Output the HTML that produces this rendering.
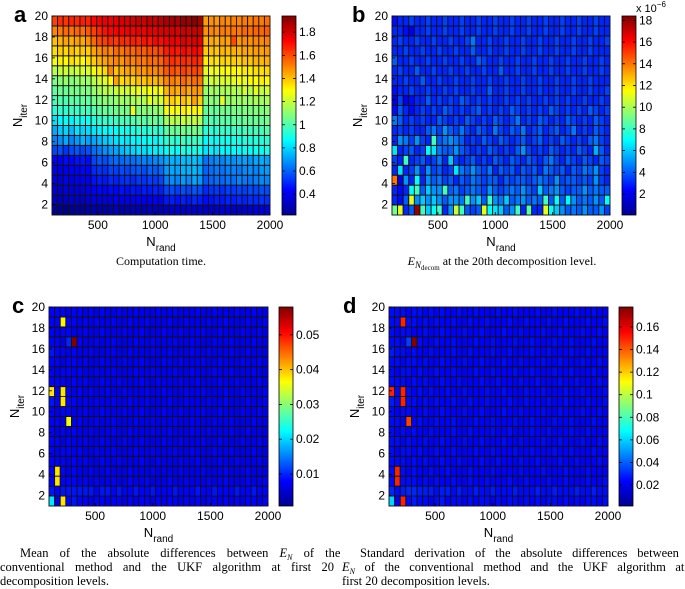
<!DOCTYPE html>
<html><head><meta charset="utf-8"><style>
html,body{margin:0;padding:0;background:#fff;}
svg{display:block;font-family:"Liberation Sans",sans-serif;}
.ser{font-family:"Liberation Serif",serif;}
</style></head><body>
<svg id="fig" width="685" height="589" viewBox="0 0 685 589" xmlns="http://www.w3.org/2000/svg">
<defs>
<linearGradient id="jet" x1="0" y1="1" x2="0" y2="0">
<stop offset="0" stop-color="#00008f"/><stop offset="0.125" stop-color="#0000ff"/><stop offset="0.375" stop-color="#00ffff"/><stop offset="0.625" stop-color="#ffff00"/><stop offset="0.875" stop-color="#ff0000"/><stop offset="1" stop-color="#800000"/>
</linearGradient>
</defs>
<g id="layer"></g>
<text x="14" y="22" font-size="22" font-weight="bold">a</text>
<text x="352" y="22" font-size="22" font-weight="bold">b</text>
<text x="12" y="313" font-size="22" font-weight="bold">c</text>
<text x="343" y="313" font-size="22" font-weight="bold">d</text>
<text x="636" y="12" font-size="11">x 10<tspan dy="-5" font-size="8">−6</tspan></text>
<text class="ser" x="161" y="265" font-size="12" text-anchor="middle">Computation time.</text>
<text class="ser" x="502" y="265" font-size="12" text-anchor="middle"><tspan font-style="italic">E</tspan><tspan font-style="italic" font-size="9" dy="3">N</tspan><tspan font-size="7" dy="2">decom</tspan><tspan dy="-5"> at the 20th decomposition level.</tspan></text>
<g class="ser" font-size="12.5">
<text x="20" y="557" word-spacing="8">Mean of the absolute differences between <tspan font-style="italic">E</tspan><tspan font-style="italic" font-size="8" dy="3">N</tspan><tspan dy="-3"> of the</tspan></text>
<text x="0" y="571" word-spacing="7.3">conventional method and the UKF algorithm at first 20</text>
<text x="0" y="585">decomposition levels.</text>
</g>
<g class="ser" font-size="12.5">
<text x="360" y="557" word-spacing="6.8">Standard derivation of the absolute differences between</text>
<text x="342" y="571" word-spacing="6.4"><tspan font-style="italic">E</tspan><tspan font-style="italic" font-size="8" dy="3">N</tspan><tspan dy="-3"> of the conventional method and the UKF algorithm at</tspan></text>
<text x="342" y="585">first 20 decomposition levels.</text>
</g>
</svg>
<script>
const nRand=[];for(let k=100;k<=2000;k+=50)nRand.push(k);
const xTicks=[500,1000,1500,2000];
const yTicks=[2,4,6,8,10,12,14,16,18,20];
const cbTicksA=[0.4,0.6,0.8,1,1.2,1.4,1.6,1.8];
const cbTicksB=[2,4,6,8,10,12,14,16,18];
const cbTicksC=[0.01,0.02,0.03,0.04,0.05];
const cbTicksD=[0.02,0.04,0.06,0.08,0.1,0.12,0.14,0.16];
// panel a: computation time, rows N_iter=1..20
const timeA=[
[.26,.24,.23,.25,.27,.26,.28,.29,.30,.28,.30,.31,.29,.30,.32,.31,.30,.32,.33,.31,.34,.33,.35,.34,.36,.35,.34,.33,.35,.34,.36,.35,.33,.34,.36,.35,.37,.36,.38],
[.32,.31,.33,.35,.34,.33,.36,.38,.37,.39,.38,.40,.39,.41,.40,.42,.41,.40,.43,.42,.47,.48,.46,.49,.47,.50,.48,.45,.46,.48,.47,.49,.48,.50,.49,.51,.50,.52,.51],
[.36,.35,.37,.36,.38,.37,.39,.42,.44,.43,.45,.44,.46,.45,.47,.46,.48,.47,.49,.48,.55,.56,.54,.57,.55,.58,.56,.50,.52,.53,.51,.54,.53,.55,.54,.56,.55,.57,.56],
[.38,.37,.40,.39,.41,.42,.40,.46,.48,.47,.50,.49,.51,.52,.50,.53,.52,.54,.53,.55,.65,.68,.66,.70,.67,.72,.69,.58,.60,.62,.61,.63,.62,.66,.64,.63,.65,.67,.66],
[.40,.39,.41,.43,.42,.44,.43,.50,.52,.51,.55,.54,.56,.55,.57,.58,.56,.60,.59,.61,.70,.72,.71,.74,.73,.75,.72,.60,.62,.64,.63,.65,.66,.64,.67,.68,.66,.69,.70],
[.43,.42,.45,.44,.46,.47,.45,.55,.58,.56,.60,.62,.61,.63,.62,.64,.66,.65,.67,.68,.72,.74,.73,.76,.75,.77,.74,.63,.65,.67,.66,.69,.68,.70,.71,.69,.72,.73,.71],
[.55,.57,.52,.56,.58,.55,.57,.62,.65,.68,.70,.72,.75,.78,.80,.82,.81,.83,.85,.84,.88,.90,.87,.92,.89,.91,.90,.82,.84,.83,.86,.85,.87,.86,.88,.87,.89,.88,.90],
[.65,.68,.72,.66,.70,.74,.71,.72,.75,.78,.80,.82,.84,.83,.86,.85,.87,.88,.86,.89,.94,.96,.93,.98,.95,.97,.96,.86,.88,.87,.90,.89,.91,.90,.92,.91,.93,.92,.94],
[.72,.78,.80,.75,.82,.79,.81,.83,.85,.87,.86,.88,.90,.89,.91,.93,.92,.94,.95,.93,1.02,1.05,1.03,1.06,1.04,1.07,1.05,.92,.94,.93,.96,.95,.97,.96,.98,.97,.99,.98,1.0],
[.82,.86,.88,.85,.90,.87,.89,.92,.94,.96,.95,.97,.99,.98,1.0,1.02,1.01,1.03,1.04,1.02,1.15,1.18,1.16,1.20,1.17,1.19,1.18,.98,1.0,.99,1.02,1.01,1.03,1.02,1.04,1.03,1.05,1.04,1.06],
[.92,.95,.94,.97,.96,.98,.97,1.0,1.02,1.04,1.03,1.05,1.07,1.06,1.25,1.08,1.10,1.09,1.11,1.12,1.28,1.30,1.27,1.32,1.29,1.31,1.30,1.02,1.04,1.03,1.06,1.05,1.07,1.06,1.08,1.07,1.09,1.08,1.10],
[.98,1.0,.99,1.02,1.01,1.03,1.02,1.06,1.08,1.10,1.09,1.12,1.14,1.13,1.15,1.17,1.16,1.25,1.20,1.22,1.35,1.38,1.34,1.40,1.36,1.45,1.38,1.08,1.10,1.09,1.25,1.11,1.13,1.12,1.14,1.13,1.15,1.14,1.16],
[1.02,1.05,1.04,1.07,1.06,1.08,1.07,1.12,1.15,1.18,1.17,1.20,1.22,1.21,1.24,1.26,1.25,1.28,1.27,1.30,1.42,1.45,1.43,1.48,1.44,1.47,1.46,1.12,1.14,1.13,1.16,1.15,1.17,1.16,1.22,1.18,1.25,1.20,1.22],
[1.08,1.10,1.12,1.09,1.11,1.13,1.12,1.18,1.22,1.25,1.30,1.45,1.35,1.38,1.36,1.40,1.39,1.42,1.41,1.44,1.50,1.52,1.49,1.55,1.51,1.54,1.53,1.20,1.22,1.21,1.24,1.23,1.25,1.28,1.26,1.30,1.29,1.32,1.30],
[1.18,1.20,1.22,1.19,1.21,1.23,1.22,1.28,1.32,1.36,1.50,1.40,1.42,1.45,1.44,1.48,1.47,1.50,1.49,1.52,1.58,1.60,1.57,1.62,1.59,1.61,1.60,1.25,1.28,1.27,1.30,1.29,1.31,1.30,1.33,1.32,1.35,1.34,1.36],
[1.28,1.32,1.30,1.35,1.33,1.30,1.34,1.38,1.42,1.45,1.48,1.50,1.47,1.52,1.50,1.53,1.52,1.55,1.54,1.56,1.62,1.65,1.63,1.66,1.64,1.67,1.65,1.32,1.35,1.34,1.37,1.36,1.38,1.37,1.40,1.39,1.42,1.41,1.43],
[1.35,1.38,1.36,1.40,1.37,1.39,1.38,1.45,1.48,1.52,1.50,1.55,1.53,1.56,1.55,1.58,1.57,1.60,1.59,1.62,1.68,1.70,1.69,1.72,1.70,1.73,1.71,1.38,1.40,1.39,1.42,1.41,1.43,1.42,1.45,1.44,1.46,1.45,1.47],
[1.40,1.42,1.45,1.43,1.46,1.44,1.48,1.55,1.60,1.62,1.65,1.63,1.66,1.65,1.68,1.67,1.70,1.69,1.72,1.71,1.74,1.76,1.75,1.78,1.76,1.79,1.77,1.42,1.44,1.43,1.46,1.45,1.60,1.47,1.49,1.48,1.50,1.49,1.51],
[1.50,1.52,1.55,1.53,1.56,1.54,1.58,1.62,1.66,1.70,1.72,1.74,1.73,1.75,1.74,1.76,1.75,1.77,1.76,1.78,1.79,1.80,1.79,1.81,1.80,1.82,1.81,1.48,1.50,1.49,1.52,1.51,1.53,1.52,1.55,1.54,1.56,1.55,1.57],
[1.62,1.65,1.64,1.67,1.66,1.68,1.67,1.72,1.74,1.76,1.75,1.77,1.79,1.78,1.80,1.82,1.81,1.83,1.82,1.84,1.86,1.88,1.87,1.90,1.89,1.92,1.88,1.46,1.48,1.47,1.50,1.49,1.51,1.50,1.52,1.51,1.53,1.52,1.54]];
// panel b: E_N decom (units 1e-6)
const errB=[
[9,11,3,4,18,8,6,7,8,3,5,10.5,8,4,3.5,4,11,7,6.5,6,4,5,8,3,8.5,3,3,11,7,6,5,4,4.5,4,5,4,4,5,3.5],
[3,2.5,4,11,5,6,5,6,5,4,5,5,4.5,8,5,6,4,8,5,4.5,6,4,4.5,5,4,4.5,4,8,4,7,4,7,5,4,4.5,4,5,4,7],
[3,2.5,3,7,8,4,6,5,5,8,4,4.5,3.5,4,4.5,4,3.5,5,4,3.5,4,4.5,4,5,4,3.5,6,4,4.5,5,4,3.5,4,4,5,4,4.5,4,4],
[14,2,5,3,7,3,5,4,4.5,3.5,4,3,4,3.5,4.5,4,3.5,4,4,3,4,3.5,4,4,3.5,4,4.5,4,3.5,5,3.5,4,4,3.5,4,3.5,5,3.5,3],
[3,6.5,3,3.5,5,3,5,3.5,4,3,3.5,6.5,4.5,4,5,4,3.5,4.5,3,4,3.5,4,3,4,3.5,4,3,4.5,4,3.5,4,3,4,3.5,4.5,4,5,3.5,3],
[3.5,3,8,3,3.5,4,3,3.5,4.5,3,6,3.5,3,3.5,4,3,3.5,3,4,3.5,3,4,3.5,3,4,3.5,3,4,4.5,3.5,3,4,3.5,3,4,3.5,3,4,3.5],
[6.5,3,3.5,4,3,3.5,7,6.5,4.5,4,4,5,4,3.5,3,3.5,3,4,3.5,3,3.5,3,4,5,3.5,3,3.5,3,4,3.5,3,3.5,3,4,3.5,3,5.5,4,3],
[3,5,4.5,3.5,5,3.5,3,8,4,4.5,5,4.5,4,3,3.5,3,4,3.5,3,4,3.5,3,3.5,4,3,3.5,4,3,3.5,3,4,3.5,3,3.5,3,4,4.5,3.5,3],
[3,3.5,3,3.5,3,3,4,4.5,3.5,5,4,3.5,4.5,3.5,3,4,3.5,3,4.5,3.5,3,4,3.5,4.5,3,3.5,4,3,3.5,4,3,3.5,4.5,3,3.5,3,4,3.5,3],
[4.5,4,3,3.5,3,3.5,3,3,4,3.5,3,3.5,3,4,3.5,3,3.5,3,4,3.5,3,3.5,4.5,3,3.5,3,4,3.5,3,3.5,3,4,3.5,3,3.5,3,4,3.5,3],
[2.5,4,3,2.5,3,3.5,3,3.5,3,4,3.5,3,3.5,3,3.5,4,3,3.5,3,3.5,3,4,3.5,3,3.5,3,3.5,3,4,3.5,3,3.5,3,3.5,3,4,3.5,3,3.5],
[2,3.5,2,2.5,3,3,4,3,3.5,3,3.5,3,4,3.5,3,3.5,3,3.5,3,3,3.5,3,3.5,3,3.5,3,3,3.5,3,3.5,3,3.5,3,3,3.5,3,3,3.5,3],
[2.5,3,3,3.5,3,3,3.5,3,3,3.5,3,3.5,3,3,3.5,3,3,4,3,3,3.5,3,3,3.5,3,3,3.5,3,3,3.5,3,3,3.5,3,3,3.5,3,3,3.5],
[3,3,3.5,3,3,4,3,3,3.5,3,3,3.5,3,3,3.5,3,3,3.5,3,3,3.5,3,3,3.5,3,3,3.5,3,3,3.5,3,3,3.5,3,3,3.5,3,3,3],
[3,3.5,3,3,4,3,3,3.5,3,3,3.5,3,3,3.5,3,3,3.5,3,3,4,3,3,3.5,3,3,3.5,3,3,3.5,3,3,3.5,3,3,3.5,3,3,3.5,3],
[4,3,3,3.5,3,3,3.5,3,3,3.5,3,3,3.5,3,3,4,3.5,3,3,3.5,3,3,3.5,3,3,3.5,3,3,3.5,3,3,3.5,3,3,3.5,3,3,3.5,3],
[3,3,3.5,3,3,3.5,3,3,3.5,3,3,3.5,3,3,4,3,3,3.5,3,3,3.5,3,3,3.5,3,3,3.5,3,3,3.5,3,3,3.5,3,3,3.5,3,3,3],
[3,3.5,3,3,3.5,3,3,3.5,3,3,3.5,3,3,3.5,4.5,3,3,3.5,3,3,3.5,3,3,3.5,3,3,3.5,3,3,3.5,3,3,3.5,3,3,3.5,3,3,3.5],
[3,3,2.5,2,3,3,3.5,3,3,3.5,3,3,3.5,3,3,3.5,3,3,3.5,3,3,3.5,3,3,3.5,3,3,3.5,3,3,3.5,3,3,3.5,3,3,3.5,3,3],
[2.5,3,3,3.5,3,3,3.5,3,3,3.5,3,3,3.5,3,3,3.5,3,3,3.5,3,3,3.5,3,3,3.5,3,3,3.5,3,3,3.5,3,3,3.5,3,3,3.5,3,3]];
// panel c: mean abs diff (units 1e-3)
const meanC=[
[21,7,38,8,9,8,8,7,8,8,7,8,8,7,8,7,8,8,7,8,7,8,8,7,8,7,8,7,8,8,7,8,7,8,7,8,8,7,8],
[9,8,9,9,9,9,9,9,8,9,9,8,9,8,8,9,8,8,9,8,8,8,9,8,8,8,9,8,8,9,8,8,8,9,8,8,9,8,8],
[8,38,8,8,8,7,8,7,8,7,7,8,7,7,8,7,7,8,7,7,7,8,7,7,8,7,7,7,8,7,7,8,7,7,7,8,7,7,8],
[8,38,8,7,8,7,7,8,7,7,8,7,7,7,8,7,7,7,8,7,7,7,7,8,7,7,7,8,7,7,7,8,7,7,7,8,7,7,7],
[8,8,8,7,8,7,8,7,7,8,7,7,8,7,7,7,8,7,7,8,7,7,7,8,7,7,8,7,7,7,8,7,7,8,7,7,7,8,7],
[8,7,8,8,7,8,7,7,8,7,7,8,7,7,7,8,7,7,8,7,7,7,8,7,7,8,7,7,7,8,7,7,8,7,7,7,8,7,7],
[8,8,7,8,7,7,8,7,7,8,7,7,7,8,7,7,8,7,7,7,8,7,7,8,7,7,7,8,7,7,8,7,7,7,8,7,7,8,7],
[8,7,8,7,8,7,7,8,7,7,7,8,7,7,8,7,7,7,8,7,7,8,7,7,7,8,7,7,8,7,7,7,8,7,7,8,7,7,7],
[8,8,7,36,7,8,7,7,8,7,7,8,7,7,7,8,7,7,8,7,7,7,8,7,7,8,7,7,7,8,7,7,8,7,7,7,8,7,7],
[8,7,8,8,7,7,8,7,7,8,7,7,7,8,7,7,8,7,7,7,8,7,7,8,7,7,7,8,7,7,8,7,7,7,8,7,7,8,7],
[9,8,38,8,8,7,8,7,8,7,7,8,7,7,8,7,7,8,7,7,7,8,7,7,8,7,7,7,8,7,7,8,7,7,7,8,7,7,8],
[38,8,38,8,7,8,7,8,7,7,8,7,7,8,7,7,7,8,7,7,8,7,7,7,8,7,7,8,7,7,7,8,7,7,8,7,7,7,8],
[8,8,8,7,8,7,8,7,7,8,7,7,8,7,7,7,8,7,7,8,7,7,7,8,7,7,8,7,7,7,8,7,7,8,7,7,7,8,7],
[8,7,8,8,7,8,7,7,8,7,7,8,7,7,7,8,7,7,8,7,7,7,8,7,7,8,7,7,7,8,7,7,8,7,7,7,8,7,7],
[8,8,7,8,8,7,8,7,7,8,7,7,7,8,7,7,8,7,7,7,8,7,7,8,7,7,7,8,7,7,8,7,7,7,8,7,7,8,7],
[9,8,8,7,8,7,7,8,7,7,7,8,7,7,8,7,7,7,8,7,7,8,7,7,7,8,7,7,8,7,7,7,8,7,7,8,7,7,7],
[8,8,7,10,58,8,7,7,8,7,7,8,7,7,7,8,7,7,8,7,7,7,8,7,7,8,7,7,7,8,7,7,8,7,7,7,8,7,7],
[8,7,8,8,7,7,8,7,7,8,7,7,7,8,7,7,8,7,7,7,8,7,7,8,7,7,7,8,7,7,8,7,7,7,8,7,7,8,7],
[8,8,37,8,8,7,8,7,8,7,7,8,7,7,8,7,7,8,7,7,7,8,7,7,8,7,7,7,8,7,7,8,7,7,7,8,7,7,8],
[8,8,8,7,8,8,7,8,7,8,7,7,8,7,7,8,7,7,7,8,7,7,8,7,7,7,8,7,7,8,7,7,7,8,7,7,8,7,7]];
// panel d: std abs diff (units 1e-3)
const stdD=[
[60,23,150,25,28,25,25,23,25,27,23,25,25,23,25,23,25,25,23,25,23,25,25,23,25,23,25,23,25,25,23,25,23,25,23,25,25,23,25],
[30,25,28,30,30,28,28,28,25,28,28,25,28,25,25,28,25,25,28,25,25,25,28,25,25,25,28,25,25,28,25,25,25,28,25,25,28,25,25],
[25,150,25,25,25,23,25,23,25,23,23,25,23,23,25,23,23,25,23,23,23,25,23,23,25,23,23,23,25,23,23,25,23,23,23,25,23,23,25],
[25,150,25,23,25,23,23,25,23,23,25,23,23,23,25,23,23,23,25,23,23,23,23,25,23,23,23,25,23,23,23,25,23,23,23,25,23,23,23],
[25,25,25,23,25,23,25,23,23,25,23,23,25,23,23,23,25,23,23,25,23,23,23,25,23,23,25,23,23,23,25,23,23,25,23,23,23,25,23],
[25,23,25,25,23,25,23,23,25,23,23,25,23,23,23,25,23,23,25,23,23,23,25,23,23,25,23,23,23,25,23,23,25,23,23,23,25,23,23],
[25,25,23,25,23,23,25,23,23,25,23,23,23,25,23,23,25,23,23,23,25,23,23,25,23,23,23,25,23,23,25,23,23,23,25,23,23,25,23],
[25,23,25,23,25,23,23,25,23,23,23,25,23,23,25,23,23,23,25,23,23,25,23,23,23,25,23,23,25,23,23,23,25,23,23,25,23,23,23],
[25,25,23,145,23,25,23,23,25,23,23,25,23,23,23,25,23,23,25,23,23,23,25,23,23,25,23,23,23,25,23,23,25,23,23,23,25,23,23],
[25,23,25,25,23,23,25,23,23,25,23,23,23,25,23,23,25,23,23,23,25,23,23,25,23,23,23,25,23,23,25,23,23,23,25,23,23,25,23],
[28,25,150,25,25,23,25,23,25,23,23,25,23,23,25,23,23,25,23,23,23,25,23,23,25,23,23,23,25,23,23,25,23,23,23,25,23,23,25],
[150,25,150,25,23,25,23,25,23,23,25,23,23,25,23,23,23,25,23,23,25,23,23,23,25,23,23,25,23,23,23,25,23,23,25,23,23,23,25],
[25,25,25,23,25,23,25,23,23,25,23,23,25,23,23,23,25,23,23,25,23,23,23,25,23,23,25,23,23,23,25,23,23,25,23,23,23,25,23],
[25,23,25,25,23,25,23,23,25,23,23,25,23,23,23,25,23,23,25,23,23,23,25,23,23,25,23,23,23,25,23,23,25,23,23,23,25,23,23],
[25,25,23,25,25,23,25,23,23,25,23,23,23,25,23,23,25,23,23,23,25,23,23,25,23,23,23,25,23,23,25,23,23,23,25,23,23,25,23],
[28,25,25,23,25,23,23,25,23,23,23,25,23,23,25,23,23,23,25,23,23,25,23,23,23,25,23,23,25,23,23,23,25,23,23,25,23,23,23],
[25,25,23,34,177,25,23,23,25,23,23,25,23,23,23,25,23,23,25,23,23,23,25,23,23,25,23,23,23,25,23,23,25,23,23,23,25,23,23],
[25,23,25,25,23,23,25,23,23,25,23,23,23,25,23,23,25,23,23,23,25,23,23,25,23,23,23,25,23,23,25,23,23,23,25,23,23,25,23],
[25,25,150,25,25,23,25,23,25,23,23,25,23,23,25,23,23,25,23,23,23,25,23,23,25,23,23,23,25,23,23,25,23,23,23,25,23,23,25],
[25,25,25,23,25,25,23,25,23,25,23,23,25,23,23,25,23,23,23,25,23,23,25,23,23,23,25,23,23,25,23,23,23,25,23,23,25,23,23]];

const NS="http://www.w3.org/2000/svg";
const layer=document.getElementById('layer');
function mk(tag,attrs,parent){const e=document.createElementNS(NS,tag);for(const k in attrs)e.setAttribute(k,attrs[k]);(parent||layer).appendChild(e);return e;}
function clamp(v){return Math.max(0,Math.min(1,v));}
function jet(t){t=clamp(t);const r=clamp(1.5-Math.abs(4*t-3)),g=clamp(1.5-Math.abs(4*t-2)),b=clamp(1.5-Math.abs(4*t-1));return `rgb(${Math.round(r*255)},${Math.round(g*255)},${Math.round(b*255)})`;}

function panel(id,grid,scale,vmin,vmax,L,R,T,B,cbL,cbTicks,fmt){
  const g=mk('g',{});
  
  
  const nr=grid.length,nc=nRand.length;
  const cw=(R-L)/nc,ch=(B-T)/nr;
  const xs=v=>L+(v-100)/(1900)*(R-L);
  const ys=v=>B-(v-1)/19*(B-T);
  const cs=v=>B-(v-vmin)/(vmax-vmin)*(B-T);
  mk('rect',{x:L,y:T,width:R-L,height:B-T,fill:'#fff',stroke:'#999','stroke-width':1},g);
  for(let r=0;r<nr;r++)for(let c=0;c<nc;c++){
    const v=grid[r][c]*scale;
    const cell=mk('rect',{x:(L+c*cw).toFixed(2),y:(B-(r+1)*ch).toFixed(2),width:cw.toFixed(2),height:ch.toFixed(2),fill:jet((v-vmin)/(vmax-vmin)),stroke:'#111','stroke-width':0.9},g);
    
    
  }
  const xa=mk('g',{},g);
  
  
  xTicks.forEach(t=>{const x=xs(t);
    mk('line',{x1:x,x2:x,y1:B,y2:B-3,stroke:'#000','stroke-width':0.8},xa);
    const tx=mk('text',{x:x,y:B+14,'font-size':12,'text-anchor':'middle'},xa);tx.textContent=t;
    
    });
  const ya=mk('g',{},g);
  
  
  yTicks.forEach(t=>{const y=ys(t);
    mk('line',{x1:L,x2:L+3,y1:y,y2:y,stroke:'#000','stroke-width':0.8},ya);
    const tx=mk('text',{x:L-4,y:y+4,'font-size':12,'text-anchor':'end'},ya);tx.textContent=t;
    
    });
  const xt=mk('text',{x:(L+R)/2,y:B+31,'font-size':13,'text-anchor':'middle'},g);
  xt.innerHTML='N<tspan font-size="10" dy="5">rand</tspan>';
  
  
  const cy=(T+B)/2, cx=L-30;
  const yt=mk('text',{x:cx,y:cy,'font-size':13,'text-anchor':'middle',transform:`rotate(-90 ${cx} ${cy})`},g);
  yt.innerHTML='N<tspan font-size="10" dy="5">iter</tspan>';
  
  
  const cb=mk('g',{},g);
  
  
  mk('rect',{x:cbL,y:T,width:14,height:B-T,fill:'url(#jet)',stroke:'#000','stroke-width':0.8},cb);
  cbTicks.forEach(t=>{const y=cs(t);
    mk('line',{x1:cbL,x2:cbL+3,y1:y,y2:y,stroke:'#000','stroke-width':0.8},cb);
    mk('line',{x1:cbL+11,x2:cbL+14,y1:y,y2:y,stroke:'#000','stroke-width':0.8},cb);
    const tx=mk('text',{x:cbL+17,y:y+4,'font-size':12},cb);tx.textContent=fmt(t);
    
    });
}
const f=t=>String(+t.toFixed(3));
panel('a',timeA,1,0.22,1.94,52,270,16,215,282,cbTicksA,f);
panel('b',errB,1,0.07,18.4,392,610,16,215,622,cbTicksB,f);
panel('c',meanC,0.001,0.0008,0.058,49,268,307,506,279,cbTicksC,f);
panel('d',stdD,0.001,0.0014,0.1777,389,608,307,506,619,cbTicksD,f);
</script>
</body></html>
